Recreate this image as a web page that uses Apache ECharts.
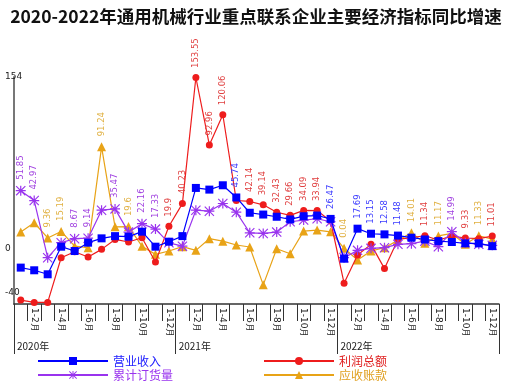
<!DOCTYPE html>
<html>
<head>
<meta charset="utf-8">
<script src="https://cdn.jsdelivr.net/npm/echarts@6/dist/echarts.min.js"></script>
<style>
html,body{margin:0;padding:0;background:#fff;}
#c{width:512px;height:388px;}
</style>
</head>
<body>
<div id="c"></div>
<script>
// ---- data ----
const years = ['2020年', '2021年', '2022年'];
const months = ['1月', '1-2月', '1-3月', '1-4月', '1-5月', '1-6月', '1-7月', '1-8月', '1-9月', '1-10月', '1-11月', '1-12月'];
const yTickLabels = [154, 0, -40];

const revenue = [
  -17.3, -19.7, -23.3, 1.5, -2.4, 5.1, 9, 11, 10.5, 15, 1.5, 6,
  11, 54.3, 52.8, 56.7, 45.74, 32, 30.4, 28.4, 26, 28.9, 29.5, 26.47,
  -9.3, 17.69, 13.15, 12.58, 11.48, 9.6, 8, 6.5, 5.7, 4.5, 4.5, 2
];
const orders = [
  51.85, 42.97, -8.4, 5.1, 8.67, 9.14, 34.3, 35.47, 14.6, 22.16, 17.33, 5,
  2, 34.3, 33.4, 40.3, 32.5, 14, 13.4, 14.6, 23.9, 25.4, 26.6, 23.9,
  -8.4, -1.8, 0, 0.6, 3.6, 4.2, 6.5, 1.5, 14.99, 5.1, 3.6, 2.7
];
const profit = [
  -46.5, -48.6, -48.6, -8.4, -3, -7.8, -0.9, 8, 5.7, 9.5, -12.2, 19.9,
  40.23, 153.55, 92.96, 120.06, 43, 42.14, 39.14, 32.43, 29.66, 34.09, 33.94, 24.5,
  -31.3, -6, 3.6, -18.2, 8, 9.6, 11.34, 7.5, 11, 9.33, 8.7, 11.01
];
const receivables = [
  14.6, 23, 9.36, 15.19, 2, 0.6, 91.24, 19.4, 19.6, 2, -5.4, -2.4,
  1.5, -1.8, 8.7, 6.5, 3, 1.2, -32.8, -0.3, -4.8, 15.5, 16.4, 14.9,
  0.04, -10.4, -2.4, 0.6, 7.2, 14.01, 4.5, 11.17, 13.4, 3.6, 11.33, 8.3
];
// which series carries the value label at each month
const labelOwner = [
  'P','P','G','G','P','P','G','P','G','P','P','R',
  'R','R','R','R','B','R','R','R','R','R','R','B',
  'G','B','B','B','B','G','R','G','P','R','G','R'
];

// ---- build ----
const categories = [];
years.forEach(y => months.forEach(m => categories.push(y + '|' + m)));
const yearAt = {0: years[0], 12: years[1], 24: years[2]};

const starPath = 'path://M4.4,0L5.6,0L5.6,10L4.4,10Z M0,4.4L10,4.4L10,5.6L0,5.6Z M0.8,0L10,9.2L9.2,10L0,0.8Z M9.2,0L10,0.8L0.8,10L0,9.2Z';

function mk(name, values, key, color, symbol, size, labelColor, z) {
  return {
    name: name,
    type: 'line',
    z: z,
    symbol: symbol,
    symbolSize: size,
    showAllSymbol: true,
    lineStyle: {color: color, width: 1.2},
    itemStyle: {color: color},
    label: {
      show: false, position: 'top', rotate: 90, align: 'left', verticalAlign: 'middle',
      distance: 6, fontSize: 8.5, color: labelColor, fontFamily: 'DejaVu Sans',
      formatter: p => String(p.value)
    },
    labelLayout: {hideOverlap: false},
    data: values.map((v, i) => labelOwner[i] === key ? {value: v, label: {show: true}} : v)
  };
}

function leg(name, color, left, top) {
  return {
    left: left, top: top, orient: 'vertical', itemWidth: 70, itemHeight: 10,
    selectedMode: false, padding: 0,
    textStyle: {fontSize: 12, fontFamily: 'Noto Sans CJK SC', color: color},
    data: [name]
  };
}

const chart = echarts.init(document.getElementById('c'), null, {renderer: 'canvas'});
chart.setOption({
  animation: false,
  backgroundColor: '#fff',
  title: {
    text: '2020-2022年通用机械行业重点联系企业主要经济指标同比增速',
    left: 'center', top: 3,
    textStyle: {fontSize: 17.5, fontWeight: 'bold', color: '#111', fontFamily: 'Noto Sans CJK SC'}
  },
  grid: {left: 14, right: 13, top: 77, bottom: 84},
  legend: [
    leg('营业收入', '#2020ff', 37, 355),
    leg('累计订货量', '#9933ee', 37, 369),
    leg('利润总额', '#e02020', 263, 355),
    leg('应收账款', '#e0a020', 263, 369)
  ],
  xAxis: [
    {
      type: 'category', data: categories, boundaryGap: true,
      axisLine: {onZero: false, lineStyle: {color: '#333', width: 1.5}},
      axisTick: {show: true, interval: 0, length: 17, lineStyle: {color: '#333'}},
      axisLabel: {
        interval: (i) => i % 2 === 1, rotate: -90, margin: 4,
        fontSize: 9, color: '#222', fontFamily: 'DejaVu Sans',
        formatter: v => v.split('|')[1]
      },
      splitLine: {show: false}
    },
    {
      type: 'value', min: 0, max: 35.99, interval: 12, position: 'bottom',
      axisLine: {show: false, onZero: false},
      axisTick: {show: true, length: 50, lineStyle: {color: '#333'}},
      axisLabel: {
        align: 'left', margin: 37, fontSize: 10, color: '#222', padding: [0, 0, 0, 3],
        fontFamily: 'Noto Sans CJK SC',
        formatter: v => yearAt[v] || ''
      },
      splitLine: {show: false}
    }
  ],
  yAxis: {
    type: 'value', min: -50, max: 154, interval: 2,
    axisLine: {show: true, lineStyle: {color: '#777', width: 2}},
    axisTick: {show: false},
    splitLine: {show: false},
    axisLabel: {
      align: 'left', margin: 9, fontSize: 9, color: '#222', fontFamily: 'DejaVu Sans',
      formatter: v => yTickLabels.indexOf(v) >= 0 ? String(v) : ''
    }
  },
  series: [
    mk('应收账款', receivables, 'G', '#e8a317', 'triangle', 9, '#e0b040', 2),
    mk('利润总额', profit, 'R', '#ee1c1c', 'circle', 7, '#e04040', 3),
    mk('累计订货量', orders, 'P', '#9933ee', starPath, 10, '#a040e0', 4),
    mk('营业收入', revenue, 'B', '#0000ff', 'rect', 8, '#3a3aff', 5)
  ]
});
</script>
</body>
</html>
